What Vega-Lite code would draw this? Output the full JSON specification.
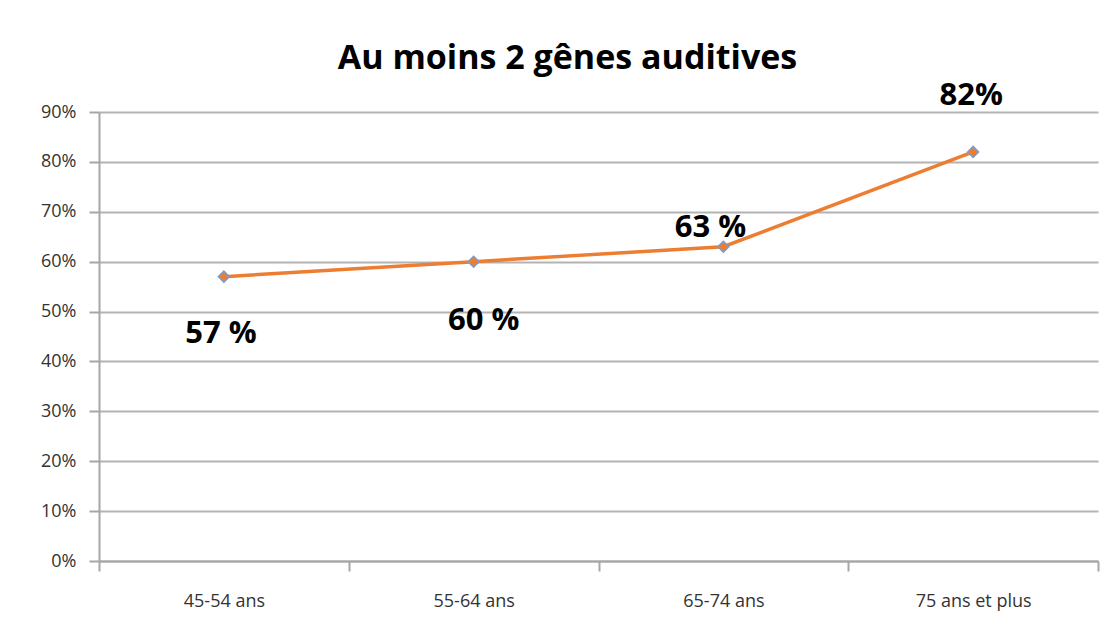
{
  "$schema": "https://vega.github.io/schema/vega-lite/v6.json",
  "width": 999,
  "height": 449,
  "autosize": {"type": "none"},
  "padding": {"left": 99, "top": 112, "right": 16, "bottom": 71},
  "background": "white",
  "title": {
    "text": "Au moins 2 gênes auditives",
    "font": "Open Sans",
    "fontSize": 34,
    "fontWeight": "bold",
    "color": "#000000",
    "anchor": "middle",
    "dx": -31,
    "offset": 4
  },
  "config": {
    "view": {"stroke": null},
    "axis": {"labelFont": "Open Sans", "labelColor": "#333333", "labelFontSize": 18}
  },
  "data": {
    "values": [
      {"age": "45-54 ans", "value": 0.57, "label": "57 %"},
      {"age": "55-64 ans", "value": 0.60, "label": "60 %"},
      {"age": "65-74 ans", "value": 0.63, "label": "63 %"},
      {"age": "75 ans et plus", "value": 0.82, "label": "82%"}
    ]
  },
  "encoding": {
    "x": {
      "field": "age",
      "type": "nominal",
      "sort": null,
      "scale": {"type": "band", "paddingInner": 0, "paddingOuter": 0},
      "axis": {
        "title": null,
        "labelAngle": 0,
        "tickBand": "extent",
        "domain": true,
        "domainColor": "#a6a6a6",
        "domainWidth": 2,
        "tickColor": "#a6a6a6",
        "tickWidth": 2,
        "tickSize": 10,
        "labelPadding": 21,
        "grid": false
      }
    },
    "y": {
      "field": "value",
      "type": "quantitative",
      "scale": {"domain": [0, 0.9]},
      "axis": {
        "title": null,
        "format": ".0%",
        "values": [0, 0.1, 0.2, 0.3, 0.4, 0.5, 0.6, 0.7, 0.8, 0.9],
        "grid": true,
        "gridColor": "#b3b3b3",
        "gridWidth": 2,
        "domainColor": "#a6a6a6",
        "domainWidth": 2,
        "tickColor": "#a6a6a6",
        "tickWidth": 2,
        "tickSize": 10,
        "labelPadding": 13
      }
    }
  },
  "layer": [
    {"mark": {"type": "line", "color": "#ed7d31", "strokeWidth": 3.5}},
    {"mark": {"type": "point", "shape": "diamond", "filled": true, "fill": "#ed7d31", "stroke": "#7f9cc9", "strokeWidth": 1.5, "size": 120, "opacity": 1}},
    {
      "transform": [{"filter": "datum.age == '45-54 ans'"}],
      "mark": {"type": "text", "font": "Open Sans", "fontSize": 31, "fontWeight": "bold", "color": "#000000", "dy": 57, "dx": -3},
      "encoding": {"text": {"field": "label"}}
    },
    {
      "transform": [{"filter": "datum.age == '55-64 ans'"}],
      "mark": {"type": "text", "font": "Open Sans", "fontSize": 31, "fontWeight": "bold", "color": "#000000", "dy": 59, "dx": 10},
      "encoding": {"text": {"field": "label"}}
    },
    {
      "transform": [{"filter": "datum.age == '65-74 ans'"}],
      "mark": {"type": "text", "font": "Open Sans", "fontSize": 31, "fontWeight": "bold", "color": "#000000", "dy": -19, "dx": -13},
      "encoding": {"text": {"field": "label"}}
    },
    {
      "transform": [{"filter": "datum.age == '75 ans et plus'"}],
      "mark": {"type": "text", "font": "Open Sans", "fontSize": 31, "fontWeight": "bold", "color": "#000000", "dy": -56, "dx": -2},
      "encoding": {"text": {"field": "label"}}
    }
  ]
}
